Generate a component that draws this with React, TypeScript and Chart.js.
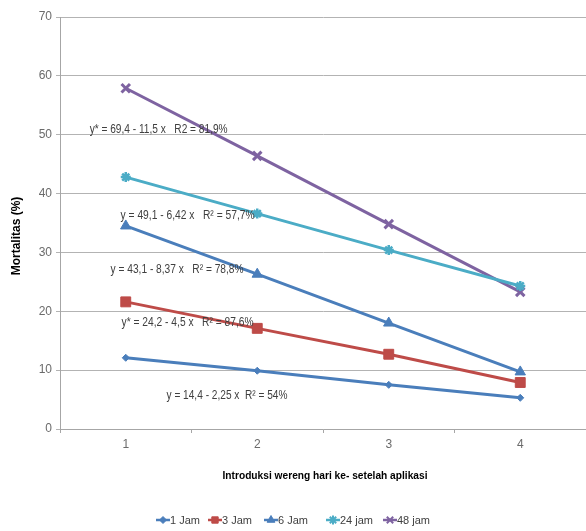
import React, { useEffect, useRef } from "react";
import { Chart, registerables } from "chart.js";
import { drawPoint } from "chart.js/helpers";

Chart.register(...registerables);

const categories = ["1", "2", "3", "4"];
const seriesLabels = ["1 Jam", "3 Jam", "6 Jam", "24 jam", "48 jam"];
const jam1 = [12.1, 9.9, 7.5, 5.3];
const jam3 = [21.6, 17.1, 12.7, 7.9];
const jam6 = [34.5, 26.3, 18.0, 9.7];
const jam24 = [42.8, 36.6, 30.4, 24.3];
const jam48 = [57.9, 46.4, 34.8, 23.3];
const yMin = 0;
const yMax = 70;
const yStep = 10;

const equations = [
  "y* = 69,4 - 11,5 x   R2 = 81,9%",
  "y = 49,1 - 6,42 x   R² = 57,7%",
  "y = 43,1 - 8,37 x   R² = 78,8%",
  "y* = 24,2 - 4,5 x   R² = 87,6%",
  "y = 14,4 - 2,25 x  R² = 54%",
];
const equationDay = [1.25, 1.47, 1.39, 1.47, 1.77];
const equationValue = [50.8, 36.2, 27.0, 18.0, 5.6];
const equationWidth = [138, 134, 133, 132, 121];

const xTitle = "Introduksi wereng hari ke- setelah aplikasi";
const yTitle = "Mortalitas (%)";

const colors = ["#4a7ebb", "#be4b48", "#4a7ebb", "#4bacc6", "#7e63a1"];
const pointStyles = ["rectRot", "rect", "triangle", "star", "crossRot"];
const pointRadii = [3.5, 7, 6, 5, 6];
const pointBorders = [1, 1, 1, 2.5, 3];

const FONT = "'Liberation Sans', Arial, sans-serif";

const legendStart = [156, 208, 264, 326, 383];

const overlayPlugin = {
  id: "overlay",
  afterDraw(chart: any) {
    const ctx = chart.ctx as CanvasRenderingContext2D;
    const xs = chart.scales.x;
    const ys = chart.scales.y;
    ctx.save();
    // equations
    ctx.fillStyle = "#404040";
    ctx.font = `12px ${FONT}`;
    ctx.textAlign = "center";
    ctx.textBaseline = "middle";
    equations.forEach((t, i) => {
      const px = xs.getPixelForValue(equationDay[i] - 1);
      const py = ys.getPixelForValue(equationValue[i]);
      ctx.fillText(t, px, py, equationWidth[i]);
    });
    // x title
    ctx.fillStyle = "#000000";
    ctx.font = `bold 11.5px ${FONT}`;
    ctx.fillText(xTitle, 325, 476, 205);
    // y title
    ctx.save();
    ctx.translate(17, 236);
    ctx.rotate(-Math.PI / 2);
    ctx.font = `bold 12px ${FONT}`;
    ctx.fillText(yTitle, 0, 0, 80);
    ctx.restore();
    // legend
    const ds = chart.data.datasets;
    ctx.font = `11px ${FONT}`;
    ctx.textAlign = "left";
    ds.forEach((d: any, i: number) => {
      const x0 = legendStart[i];
      const y0 = 520;
      ctx.strokeStyle = d.borderColor;
      ctx.lineWidth = 2.5;
      ctx.beginPath();
      ctx.moveTo(x0, y0);
      ctx.lineTo(x0 + 14, y0);
      ctx.stroke();
      ctx.fillStyle = d.pointBackgroundColor;
      ctx.strokeStyle = d.pointBorderColor;
      ctx.lineWidth = Math.min(d.pointBorderWidth, 2);
      drawPoint(
        ctx,
        {
          pointStyle: d.pointStyle,
          radius: Math.min(d.pointRadius, 4.5),
          borderWidth: Math.min(d.pointBorderWidth, 2),
          rotation: 0,
        } as any,
        x0 + 7,
        y0
      );
      ctx.fillStyle = "#404040";
      ctx.fillText(d.label, x0 + 14, y0 + 1);
    });
    ctx.restore();
  },
};

export default function App() {
  const ref = useRef<HTMLCanvasElement>(null);
  useEffect(() => {
    if (!ref.current) return;
    const series = [jam1, jam3, jam6, jam24, jam48];
    const chart = new Chart(ref.current, {
      type: "line",
      data: {
        labels: categories,
        datasets: series.map((d, i) => ({
          label: seriesLabels[i],
          data: d,
          borderColor: colors[i],
          backgroundColor: colors[i],
          borderWidth: 3,
          pointStyle: pointStyles[i] as any,
          pointRadius: pointRadii[i],
          pointBorderWidth: pointBorders[i],
          pointBackgroundColor: colors[i],
          pointBorderColor: colors[i],
          tension: 0,
          fill: false,
        })),
      },
      options: {
        animation: false,
        responsive: false,
        devicePixelRatio: 1,
        layout: { autoPadding: false, padding: { top: 17, right: 0, bottom: 0, left: 0 } },
        plugins: {
          legend: { display: false },
          tooltip: { enabled: false },
          title: { display: false },
        },
        scales: {
          x: {
            type: "category",
            offset: true,
            grid: {
              display: true,
              drawOnChartArea: false,
              drawTicks: true,
              tickLength: 4,
              color: "#a6a6a6",
              offset: true,
            },
            border: { display: true, color: "#a6a6a6", width: 1 },
            ticks: {
              color: "#6b6b6b",
              font: { family: FONT, size: 12 },
              padding: 4,
              maxRotation: 0,
            },
            afterFit(scale: any) {
              scale.height = 102;
            },
          },
          y: {
            min: yMin,
            max: yMax,
            grid: {
              color: "#b3b3b3",
              tickLength: 4,
              lineWidth: 1,
            },
            border: { display: true, color: "#a6a6a6", width: 1 },
            ticks: {
              stepSize: yStep,
              color: "#6b6b6b",
              font: { family: FONT, size: 12 },
              padding: 4,
            },
            afterFit(scale: any) {
              scale.width = 60;
            },
          },
        },
      },
      plugins: [overlayPlugin],
    });
    return () => chart.destroy();
  }, []);
  return (
    <div style={{ position: "fixed", left: 0, top: 0, width: 586, height: 531, background: "#fff" }}>
      <canvas ref={ref} width={586} height={531} style={{ display: "block" }} />
    </div>
  );
}
